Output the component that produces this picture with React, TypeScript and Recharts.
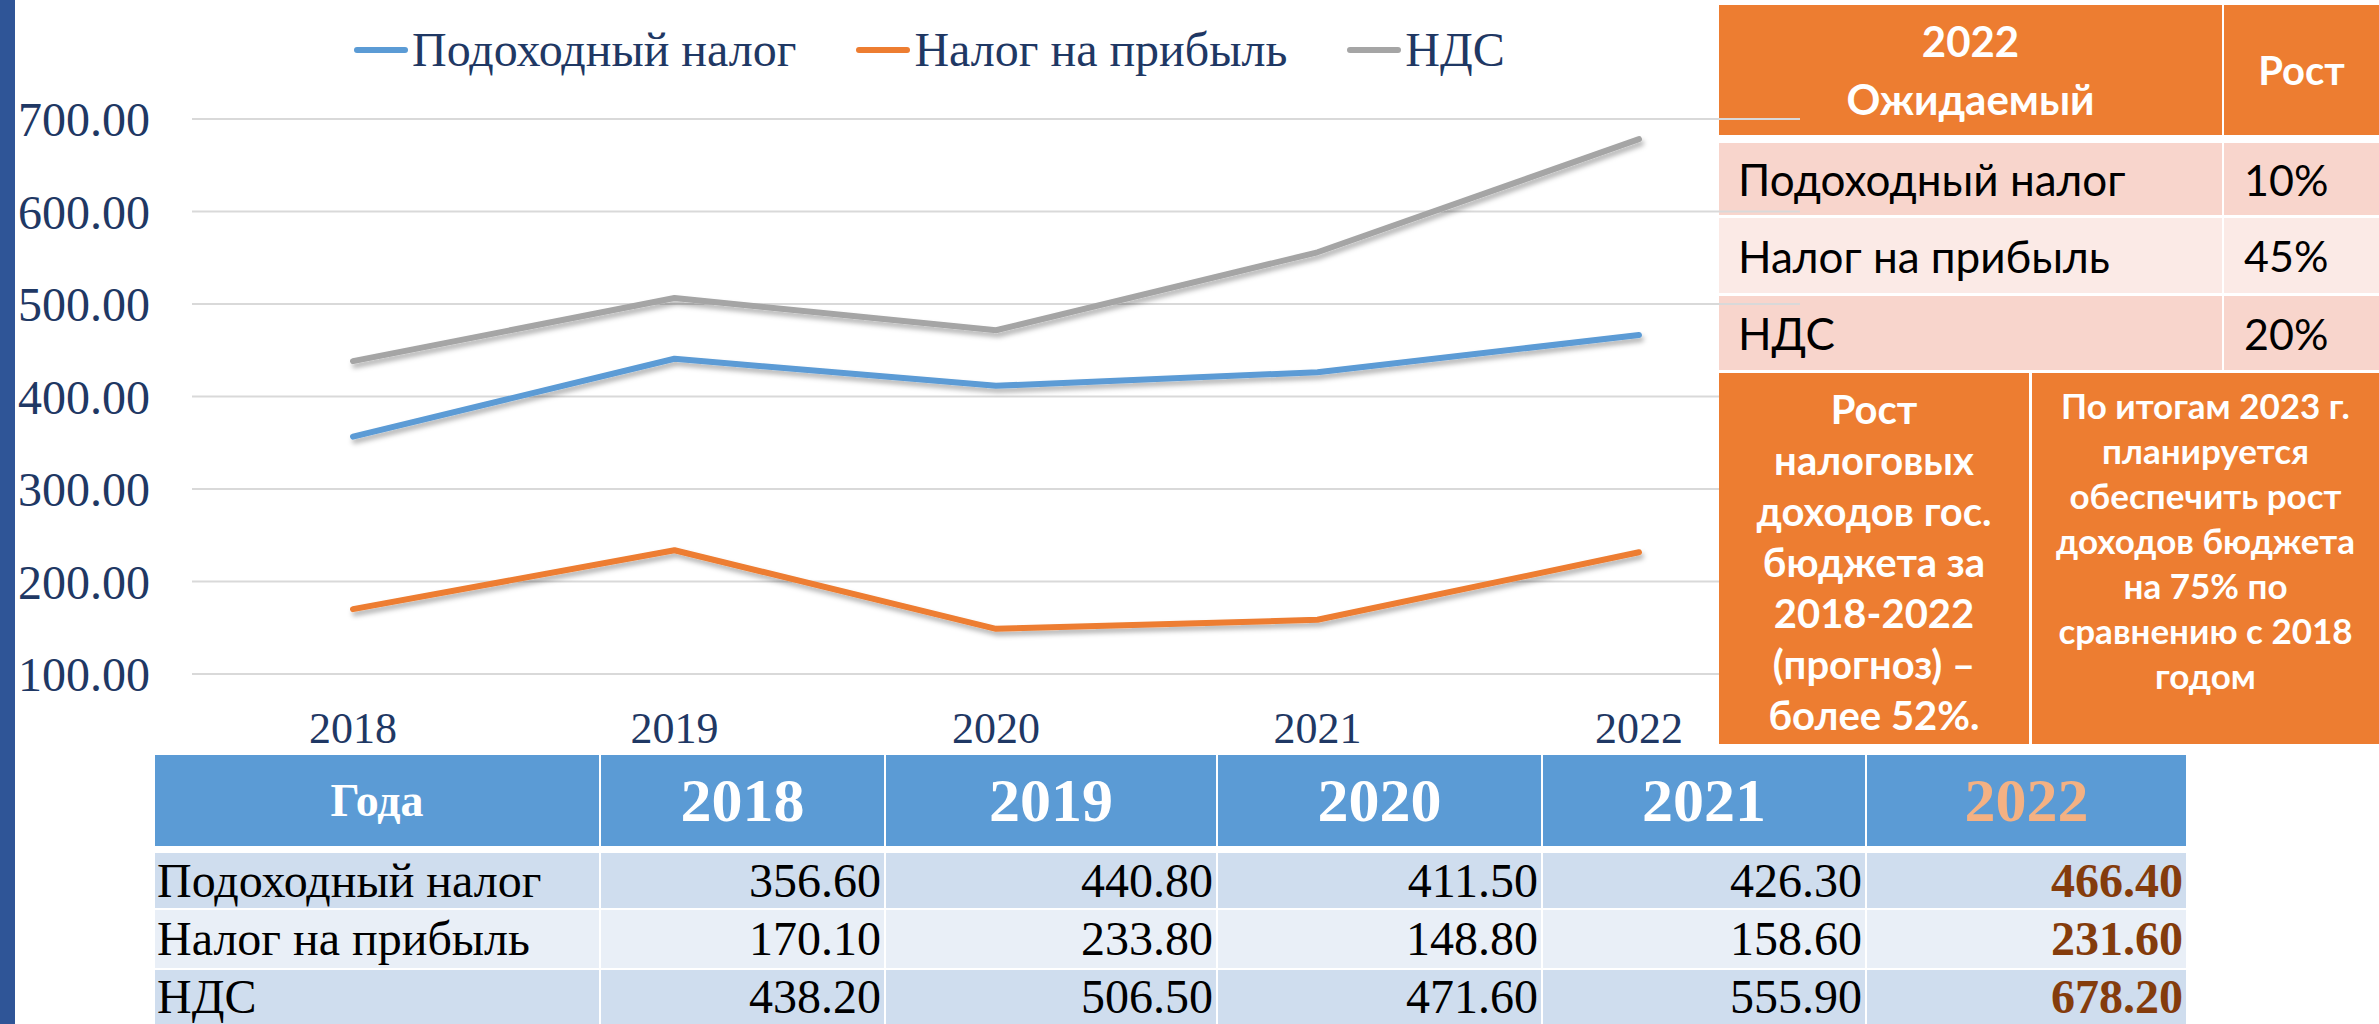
import React from 'react';
import { LineChart, Line, XAxis, YAxis, CartesianGrid, Legend } from 'recharts';

const years = ['2018', '2019', '2020', '2021', '2022'];
const incomeTax = [356.6, 440.8, 411.5, 426.3, 466.4];
const profitTax = [170.1, 233.8, 148.8, 158.6, 231.6];
const vatTax = [438.2, 506.5, 471.6, 555.9, 678.2];
const seriesNames = ['Подоходный налог', 'Налог на прибыль', 'НДС'];
const seriesKeys = ['income', 'profit', 'vat'];
const seriesColors = ['#5B9BD5', '#ED7D31', '#A5A5A5'];
const yTicks = [100, 200, 300, 400, 500, 600, 700];

const growthHeader = ['2022', 'Ожидаемый'];
const growthTitle = 'Рост';
const growthValues = ['10%', '45%', '20%'];
const noteLeft = ['Рост', 'налоговых', 'доходов гос.', 'бюджета за', '2018-2022', '(прогноз) –', 'более 52%.'];
const noteRight = ['По итогам 2023 г.', 'планируется', 'обеспечить рост', 'доходов бюджета', 'на 75% по', 'сравнению с 2018', 'годом'];
const tableHeaderLabel = 'Года';

const data = years.map((y, i) => ({ year: y, income: incomeTax[i], profit: profitTax[i], vat: vatTax[i] }));
const tableRows = [incomeTax, profitTax, vatTax];

const ORANGE = '#ED7D31';
const NAVY = '#1F3864';
const SERIF = '"Liberation Serif", "Times New Roman", serif';
const SANS = 'Lato, "Open Sans", sans-serif';

const renderLegend = (props: any) => {
  const payload = [...(props.payload || [])].sort(
    (a: any, b: any) => seriesNames.indexOf(a.value) - seriesNames.indexOf(b.value)
  );
  return (
    <div style={{ display: 'flex', alignItems: 'center', height: 56 }}>
      {payload.map((p: any, i: number) => (
        <div key={i} style={{ display: 'flex', alignItems: 'center', marginRight: 60 }}>
          <div style={{ width: 54, height: 6, borderRadius: 3, background: p.color, marginRight: 4 }} />
          <span style={{ fontFamily: SERIF, fontSize: 48, color: NAVY, lineHeight: '56px' }}>{p.value}</span>
        </div>
      ))}
    </div>
  );
};

const colEdges = [155, 599, 884, 1216, 1541, 1865, 2186];
const rowTops = [853, 910, 970];
const rowHeights = [55, 58, 54];
const growthRowTops = [143, 218, 296];
const growthRowHeights = [72, 75, 74];
const growthRowColors = ['#F8D5CC', '#FBEAE6', '#F8D5CC'];
const tableRowColors = ['#CFDDEE', '#E9EFF7', '#CFDDEE'];

export default function App() {
  return (
    <div style={{ position: 'absolute', left: 0, top: 0, width: 2379, height: 1024, overflow: 'hidden', background: '#fff' }}>
      {/* left accent bar */}
      <div style={{ position: 'absolute', left: 0, top: 0, width: 15, height: 1024, background: '#2F5597' }} />

      {/* top-right growth table */}
      <div style={{ position: 'absolute', left: 1719, top: 5, width: 503, height: 130, background: ORANGE, color: '#fff', fontFamily: SANS, fontWeight: 700, fontSize: 42, lineHeight: '58px', display: 'flex', flexDirection: 'column', alignItems: 'center', justifyContent: 'center' }}>
        {growthHeader.map((t, i) => <div key={i}>{t}</div>)}
      </div>
      <div style={{ position: 'absolute', left: 2224, top: 5, width: 155, height: 130, background: ORANGE, color: '#fff', fontFamily: SANS, fontWeight: 700, fontSize: 40, display: 'flex', alignItems: 'center', justifyContent: 'center' }}>
        {growthTitle}
      </div>
      {seriesNames.map((n, i) => (
        <React.Fragment key={i}>
          <div style={{ position: 'absolute', left: 1719, top: growthRowTops[i], width: 503, height: growthRowHeights[i], background: growthRowColors[i], fontFamily: SANS, fontSize: 44, color: '#000', display: 'flex', alignItems: 'center', paddingLeft: 19, boxSizing: 'border-box' }}>{n}</div>
          <div style={{ position: 'absolute', left: 2224, top: growthRowTops[i], width: 155, height: growthRowHeights[i], background: growthRowColors[i], fontFamily: SANS, fontSize: 43, color: '#000', display: 'flex', alignItems: 'center', paddingLeft: 20, boxSizing: 'border-box' }}>{growthValues[i]}</div>
        </React.Fragment>
      ))}

      {/* chart */}
      <div style={{ position: 'absolute', left: 0, top: 0, width: 1810, height: 760, zIndex: 1 }}>
        <LineChart width={1810} height={760} data={data} margin={{ top: 119, right: 10, bottom: 26, left: 0 }}>
          <defs>
            <filter id="lineShadow" x="-5%" y="-20%" width="110%" height="140%">
              <feDropShadow dx="2" dy="4" stdDeviation="2.5" floodColor="#000" floodOpacity="0.3" />
            </filter>
          </defs>
          <CartesianGrid vertical={false} stroke="#D9D9D9" strokeWidth={2} />
          <XAxis dataKey="year" axisLine={false} tickLine={false} height={60} tickMargin={32}
            padding={{ left: 161, right: 161 }}
            tick={{ fontFamily: SERIF, fontSize: 44, fill: NAVY }} />
          <YAxis domain={[100, 700]} ticks={yTicks} axisLine={false} tickLine={false} width={192} tickMargin={36}
            tickFormatter={(v: number) => v.toFixed(2)} tick={{ fontFamily: SERIF, fontSize: 48, fill: NAVY }} />
          <Legend verticalAlign="middle" align="center" layout="horizontal" content={renderLegend}
            wrapperStyle={{ top: 22, left: 354, width: 1400, height: 56 }} />
          {seriesKeys.map((k, i) => (
            <Line key={k} type="linear" dataKey={k} name={seriesNames[i]} stroke={seriesColors[i]} strokeWidth={6}
              strokeLinecap="round" strokeLinejoin="round" dot={false} activeDot={false} isAnimationActive={false}
              filter="url(#lineShadow)" />
          ))}
        </LineChart>
      </div>

      {/* lower orange notes */}
      <div style={{ position: 'absolute', left: 1719, top: 373, width: 310, height: 371, background: ORANGE, zIndex: 2, color: '#fff', fontFamily: SANS, fontWeight: 700, fontSize: 40, lineHeight: '51px', textAlign: 'center', paddingTop: 11, boxSizing: 'border-box', whiteSpace: 'nowrap' }}>
        {noteLeft.map((t, i) => <div key={i}>{t}</div>)}
      </div>
      <div style={{ position: 'absolute', left: 2032, top: 373, width: 347, height: 371, background: ORANGE, zIndex: 2, color: '#fff', fontFamily: SANS, fontWeight: 700, fontSize: 35, lineHeight: '45px', textAlign: 'center', paddingTop: 10, boxSizing: 'border-box', whiteSpace: 'nowrap' }}>
        {noteRight.map((t, i) => <div key={i}>{t}</div>)}
      </div>

      {/* bottom data table header */}
      {[tableHeaderLabel, ...years].map((h, c) => (
        <div key={c} style={{ position: 'absolute', left: colEdges[c] + (c === 0 ? 0 : 2), top: 755, width: colEdges[c + 1] - colEdges[c] - (c === 0 ? 0 : 2), height: 91, background: '#5B9BD5', color: c === 5 ? '#F4B183' : '#fff', fontFamily: SERIF, fontWeight: 700, fontSize: c === 0 ? 46 : 62, display: 'flex', alignItems: 'center', justifyContent: 'center', boxSizing: 'border-box' }}>{h}</div>
      ))}
      {tableRows.map((vals, r) => (
        <React.Fragment key={r}>
          <div style={{ position: 'absolute', left: colEdges[0], top: rowTops[r], width: colEdges[1] - colEdges[0], height: rowHeights[r], background: tableRowColors[r], fontFamily: SERIF, fontSize: 48, lineHeight: rowHeights[r] + 'px', color: '#000', paddingLeft: 2, boxSizing: 'border-box', whiteSpace: 'nowrap' }}>{seriesNames[r]}</div>
          {vals.map((v, c) => (
            <div key={c} style={{ position: 'absolute', left: colEdges[c + 1] + 2, top: rowTops[r], width: colEdges[c + 2] - colEdges[c + 1] - 2, height: rowHeights[r], background: tableRowColors[r], fontFamily: SERIF, fontSize: 48, lineHeight: rowHeights[r] + 'px', color: c === 4 ? '#843C0C' : '#000', fontWeight: c === 4 ? 700 : 400, textAlign: 'right', paddingRight: 3, boxSizing: 'border-box' }}>{v.toFixed(2)}</div>
          ))}
        </React.Fragment>
      ))}
    </div>
  );
}
